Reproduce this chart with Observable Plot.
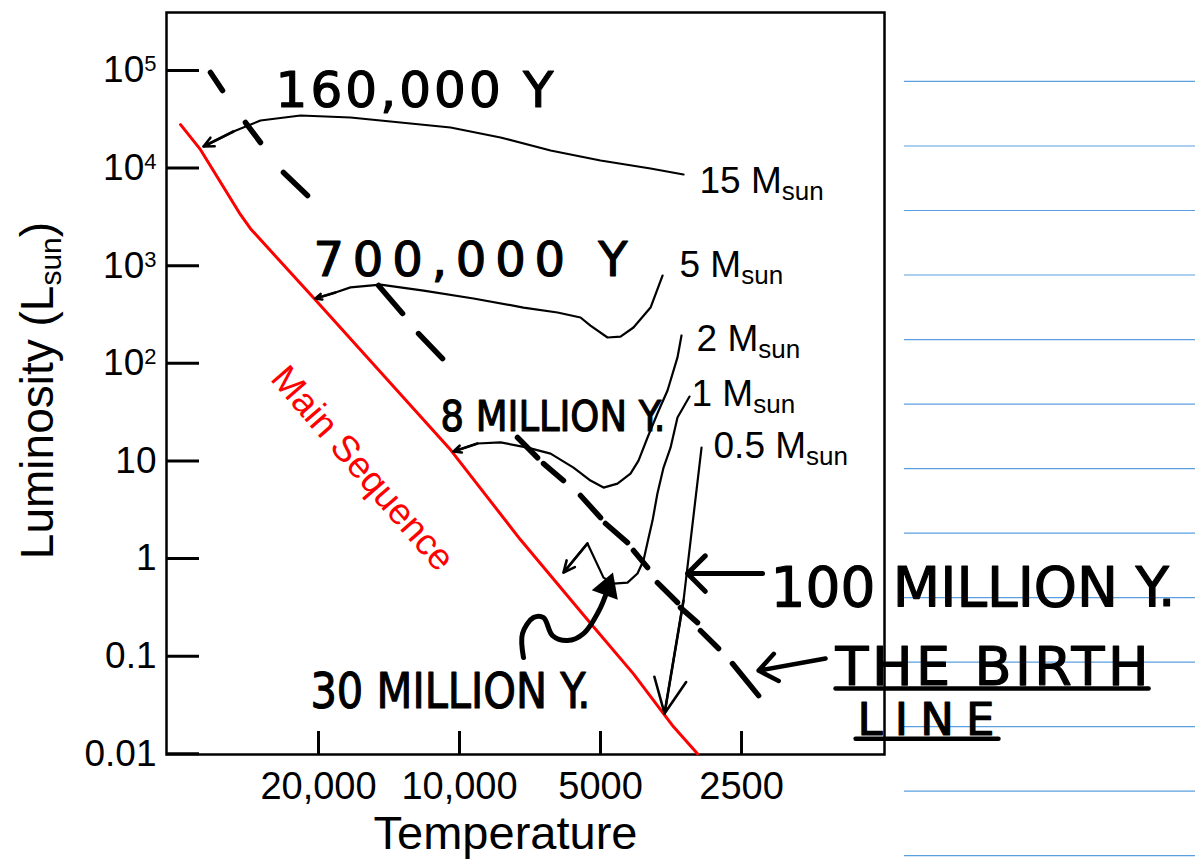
<!DOCTYPE html>
<html><head><meta charset="utf-8">
<script src="https://cdn.jsdelivr.net/npm/d3@7"></script>
<script src="https://cdn.jsdelivr.net/npm/@observablehq/plot@0.6"></script>
<style>
html,body{margin:0;padding:0;background:#fff;}
#chart svg{display:block;}
</style></head><body><div id="chart"></div>
<script>
// ---- axis ticks ----
const yTicks = [0.01, 0.1, 1, 10, 100, 1000, 10000, 100000];
const yTickLabels = ["0.01", "0.1", "1", "10", "10^2", "10^3", "10^4", "10^5"];
const xTicks = [20000, 10000, 5000, 2500];
const xTickLabels = ["20,000", "10,000", "5000", "2500"];

// ---- main sequence [T, L] ----
const mainSeq = [[39400,27900],[35720,15450],[29340,3330],[27940,2393],[20500,470],[10450,13.0],[7408,1.558],[5330,0.236],[4252,0.066],[3492,0.0189],[3104,0.01]];

// ---- pre-main-sequence tracks [T, L] (start -> main sequence) ----
const track15 = [[3325,8600],[3910,9910],[5000,11970],[6391,15150],[8175,20590],[10450,26060],[13360,29330],[17090,33000],[21850,34590],[26600,30740],[30380,23710],[35200,16650]];
const track5 = [[3686,794],[3910,373],[4252,233],[4532,188],[4831,184],[5253,244],[5517,295],[6177,332],[7302,373],[9336,462],[11930,557],[14750,640],[17090,600],[18400,532],[20300,462]];
const track2 = [[3358,193],[3425,115],[3597,52.7],[3780,30.6],[3968,17.4],[4148,10.1],[4315,7.43],[4600,5.87],[4927,5.34],[5253,6.30],[5710,8.56],[6391,11.9],[7157,13.7],[8175,15.5],[9154,15.1],[10300,12.5]];
const track1 = [[3228,45.7],[3425,27.9],[3544,13.7],[3668,8.56],[3780,4.64],[3872,2.45],[3948,1.64],[4048,0.955],[4169,0.703],[4379,0.568],[4691,0.555],[4927,0.639],[5331,1.43],[5998,0.719]];
const track05 = [[3043,13.7],[3325,0.372],[3650,0.0259]];

const massLabels = ["15 Msun", "5 Msun", "2 Msun", "1 Msun", "0.5 Msun"];
const massLabelT = [3074, 3391, 3119, 3197, 2869];
const massLabelL = [5625, 775, 135.3, 36.98, 10.84];

// ---- birth line (hand-drawn dashes) [T1, L1, T2, L2] ----
const birthDashes = [
  [34010,95400,32060,62390],[28640,29330,26600,18300],[23760,9016,21110,5241],
  [14890,627,13230,324],[12230,202,10870,112],[7520,17.4,6814,10.8],
  [6617,9.41,5998,6.30],[5517,4.43,5000,2.63],[4879,2.29,4379,1.46],
  [4252,1.21,3968,0.81],[3780,0.568,3425,0.355],[3375,0.315,3104,0.221],
  [3059,0.183,2799,0.120],[2614,0.0841,2299,0.0395]];

// ---- hand-drawn arrows [T1, L1, T2, L2] ----
const trackArrows = [[30380,23710,35200,16650],[18400,532,20300,462],[9154,15.1,10300,12.5],[5331,1.43,5998,0.719],[3325,0.372,3650,0.0259]];
const arrow100My = [[2255,0.703,3260,0.703]];
const arrowBirth = [[1654,0.0946,2299,0.0713]];
const squiggle = [[7302,0.0969],[7338,0.1706],[6951,0.2489],[6617,0.2489],[6330,0.1627],[5881,0.1447],[5437,0.1706],[5000,0.3151],[4761,0.5957]];
const squiggleTip = [[4831,0.505]];

// ---- handwritten notes ----
const notes = ["160,000 Y", "700,000 Y", "8 MILLION Y.", "30 MILLION Y.", "100 MILLION Y.", "THE BIRTH", "LINE"];
const noteT = [24710, 20500, 10980, 20810, 2168, 1575, 1414];
const noteL = [41770, 794, 20.5, 0.0298, 0.330, 0.0513, 0.01575];
const underlines = [[1575,0.0466,338,0.0466],[1427,0.0143,707,0.0143]];

// ---- notebook paper lines (right margin) ----
const paperL = [77170,16850,3679,803.4,175.4,38.3,8.365,1.827,0.399,0.0871,0.01903,0.004153,0.000907];
const paperSpanT = [1122, 268];

const mainLabel = ["Main Sequence"];
const mainLabelPos = [[16110, 8.365]];

// ---- styles ----
const noteSize = [50, 48, 42, 50, 56, 54, 45];
const noteWidth = [278, 314, 225, 280, 405, 313, 137];
const hand = "'DejaVu Sans', sans-serif";
const font = "'Liberation Sans', Arial, sans-serif";
const frameW = 884 - 166, frameH = 754 - 12;

const tracks = [track15, track5, track2, track1, track05];

const chart = Plot.plot({
  width: 1195, height: 865,
  marginLeft: 166, marginRight: 311, marginTop: 12, marginBottom: 111,
  style: {fontFamily: font, background: "white", overflow: "visible", color: "black"},
  x: {type: "log", domain: [42220, 1238]},
  y: {type: "log", domain: [0.00985, 392600]},
  marks: [
    Plot.ruleY(paperL, {y: d => d, x1: paperSpanT[0], x2: paperSpanT[1], stroke: "#5a9fe0", strokeWidth: 1.2}),
    Plot.frame({stroke: "black", strokeWidth: 2.5}),
    Plot.tickY(yTicks, {y: d => d, insetRight: frameW - 33, strokeWidth: 3}),
    Plot.tickX(xTicks, {x: d => d, insetTop: frameH - 23, strokeWidth: 3}),
    Plot.axisY({ticks: yTicks, tickFormat: d => yTickLabels[yTicks.indexOf(d)], tickSize: 0, tickPadding: 10, fontSize: 37, label: null}),
    Plot.axisX({ticks: xTicks, tickFormat: d => xTickLabels[xTicks.indexOf(d)], tickSize: 0, tickPadding: 18, fontSize: 38, label: null}),
    Plot.text(["Luminosity (Lsun)"], {frameAnchor: "left", textAnchor: "middle", rotate: -90, dx: -128, dy: 7, fontSize: 46}),
    Plot.text(["Temperature"], {frameAnchor: "bottom", textAnchor: "middle", lineAnchor: "bottom", dx: -20, dy: 94, fontSize: 47}),
    Plot.line(mainSeq, {x: d => d[0], y: d => d[1], stroke: "#ff0000", strokeWidth: 3}),
    Plot.text(mainLabel, {x: () => mainLabelPos[0][0], y: () => mainLabelPos[0][1], text: d => d, rotate: 49, fill: "#ff0000", fontSize: 37}),
    ...tracks.map(t => Plot.line(t, {x: d => d[0], y: d => d[1], stroke: "black", strokeWidth: 2.2})),
    Plot.arrow(trackArrows, {x1: d => d[0], y1: d => d[1], x2: d => d[2], y2: d => d[3], stroke: "black", strokeWidth: 2.6, headLength: 22, headAngle: 50}),
    Plot.text(massLabels, {x: (d, i) => massLabelT[i], y: (d, i) => massLabelL[i], text: d => d, textAnchor: "start", lineAnchor: "bottom", fontSize: 37}),
    Plot.link(birthDashes, {x1: d => d[0], y1: d => d[1], x2: d => d[2], y2: d => d[3], stroke: "black", strokeWidth: 5.5, strokeLinecap: "round"}),
    Plot.arrow(arrow100My, {x1: d => d[0], y1: d => d[1], x2: d => d[2], y2: d => d[3], stroke: "black", strokeWidth: 5, headLength: 32, headAngle: 90, strokeLinecap: "round"}),
    Plot.arrow(arrowBirth, {x1: d => d[0], y1: d => d[1], x2: d => d[2], y2: d => d[3], stroke: "black", strokeWidth: 4.5, headLength: 24, headAngle: 75, strokeLinecap: "round"}),
    Plot.line(squiggle, {x: d => d[0], y: d => d[1], curve: "catmull-rom", stroke: "black", strokeWidth: 5, strokeLinecap: "round"}),
    Plot.dot(squiggleTip, {x: d => d[0], y: d => d[1], symbol: "triangle", r: 9, rotate: 20, fill: "black", stroke: "black", strokeWidth: 2}),
    Plot.link(underlines, {x1: d => d[0], y1: d => d[1], x2: d => d[2], y2: d => d[3], stroke: "black", strokeWidth: 4.5, strokeLinecap: "round"}),
    Plot.text(notes, {x: (d, i) => noteT[i], y: (d, i) => noteL[i], text: d => d, textAnchor: "start", lineAnchor: "bottom", fontSize: (d, i) => noteSize[i], fontFamily: hand, fontWeight: "normal", fill: "black", stroke: "black", strokeWidth: 1.2, strokeLinejoin: "round"})
  ]
});

document.getElementById("chart").appendChild(chart);

// rich text: superscripts / subscripts, and handwriting widths
const NS = "http://www.w3.org/2000/svg";
function rich(el, parts) {
  el.textContent = "";
  for (const p of parts) {
    const ts = document.createElementNS(NS, "tspan");
    ts.textContent = p.t;
    if (p.size) ts.setAttribute("font-size", p.size);
    if (p.dy) ts.setAttribute("dy", p.dy);
    el.appendChild(ts);
  }
}
chart.querySelectorAll("text").forEach(el => {
  const s = el.textContent;
  let m;
  if ((m = s.match(/^10\^(\d)$/))) rich(el, [{t: "10"}, {t: m[1], size: 22, dy: -11}]);
  else if ((m = s.match(/^(.*) Msun$/))) rich(el, [{t: m[1] + " M"}, {t: "sun", size: 26, dy: 7}]);
  else if (s === "Luminosity (Lsun)") rich(el, [{t: "Luminosity (L"}, {t: "sun", size: 30, dy: 8}, {t: ")", dy: -8}]);
  else {
    const k = notes.indexOf(s);
    if (k >= 0) {
      let natural = 0;
      try { natural = el.getComputedTextLength(); } catch (e) {}
      el.setAttribute("textLength", noteWidth[k]);
      el.setAttribute("lengthAdjust", natural > noteWidth[k] ? "spacingAndGlyphs" : "spacing");
    }
  }
});
</script></body></html>
